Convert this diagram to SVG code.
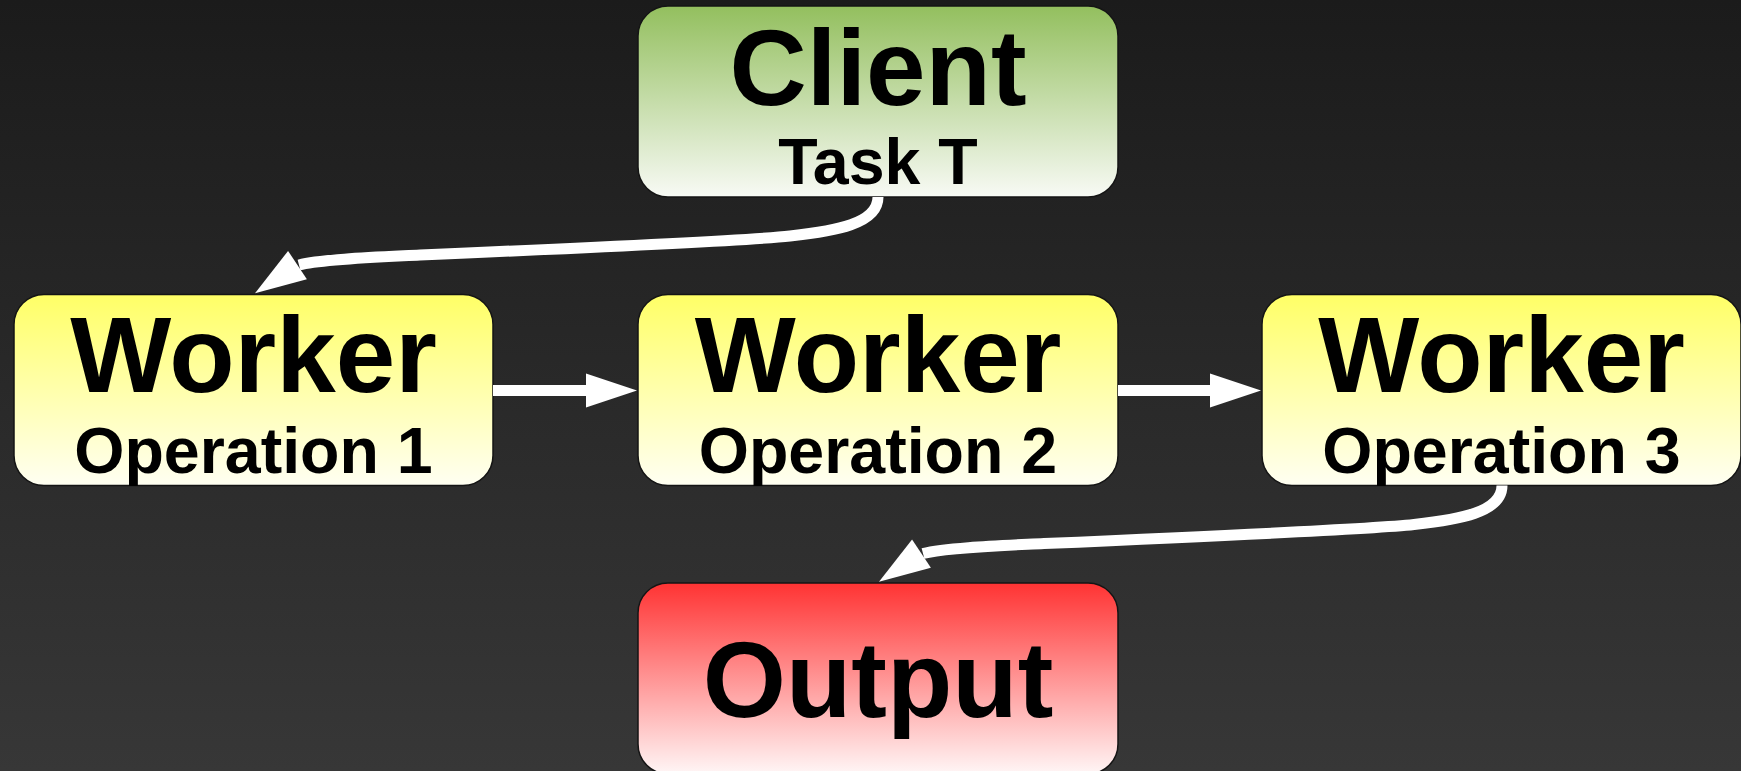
<svg xmlns="http://www.w3.org/2000/svg" width="1741" height="771" viewBox="0 0 1741 771">
  <defs>
    <linearGradient id="bg" x1="0" y1="0" x2="0" y2="1">
      <stop offset="0" stop-color="#1b1b1b"/>
      <stop offset="1" stop-color="#373737"/>
    </linearGradient>
    <linearGradient id="gGreen" x1="0" y1="0" x2="0" y2="1">
      <stop offset="0" stop-color="#93bf5e"/>
      <stop offset="1" stop-color="#f8faf5"/>
    </linearGradient>
    <linearGradient id="gYellow" x1="0" y1="0" x2="0" y2="1">
      <stop offset="0" stop-color="#ffff66"/>
      <stop offset="1" stop-color="#fffff2"/>
    </linearGradient>
    <linearGradient id="gRed" x1="0" y1="0" x2="0" y2="1">
      <stop offset="0" stop-color="#ff3333"/>
      <stop offset="1" stop-color="#fff6f6"/>
    </linearGradient>
    <path id="ah" d="M0,0 L-51,-17 L-51,17 Z" fill="#ffffff"/>
    <style>
      .box { stroke: #151515; stroke-width: 1.5; }
      .t { font-family: "Liberation Sans", Arial, sans-serif; font-weight: bold; fill: #000; text-anchor: middle; }
      .big { font-size: 107px; }
      .small { font-size: 64.5px; }
      .wire { fill: none; stroke: #ffffff; stroke-width: 11; }
    </style>
  </defs>

  <rect x="0" y="0" width="1741" height="771" fill="url(#bg)"/>

  <g id="client">
    <rect class="box" x="638" y="6" width="480" height="191" rx="30" ry="30" fill="url(#gGreen)"/>
    <text class="t big" x="878" y="105">Client</text>
    <text class="t small" x="878" y="184">Task T</text>
  </g>

  <g id="worker1">
    <rect class="box" x="14" y="294.5" width="479" height="191" rx="30" ry="30" fill="url(#gYellow)"/>
    <text class="t big" x="253.5" y="392">Worker</text>
    <text class="t small" x="253.5" y="473">Operation 1</text>
  </g>

  <g id="worker2">
    <rect class="box" x="638" y="294.5" width="480" height="191" rx="30" ry="30" fill="url(#gYellow)"/>
    <text class="t big" x="878" y="392">Worker</text>
    <text class="t small" x="878" y="473">Operation 2</text>
  </g>

  <g id="worker3">
    <rect class="box" x="1262" y="294.5" width="479" height="191" rx="30" ry="30" fill="url(#gYellow)"/>
    <text class="t big" x="1501.5" y="392">Worker</text>
    <text class="t small" x="1501.5" y="473">Operation 3</text>
  </g>

  <g id="output">
    <rect class="box" x="638" y="583" width="480" height="191" rx="30" ry="30" fill="url(#gRed)"/>
    <text class="t big" x="878" y="717">Output</text>
  </g>

  <g id="connectors">
    <path class="wire" d="M878,197 C878,224 835,231 790,236 S560,249 420,255 C380,257 322,259 299,265"/>
    <use href="#ah" transform="translate(255,293.3) rotate(146.4)"/>

    <path class="wire" d="M493,390.5 L590,390.5"/>
    <use href="#ah" transform="translate(637,390.5)"/>

    <path class="wire" d="M1118,390.5 L1214,390.5"/>
    <use href="#ah" transform="translate(1261,390.5)"/>

    <path class="wire" d="M1502,485.5 C1502,512.5 1459,519.5 1414,524.5 S1184,537.5 1044,543.5 C1004,545.5 946,547.5 923,553.5"/>
    <use href="#ah" transform="translate(879,581.8) rotate(146.4)"/>
  </g>
</svg>
